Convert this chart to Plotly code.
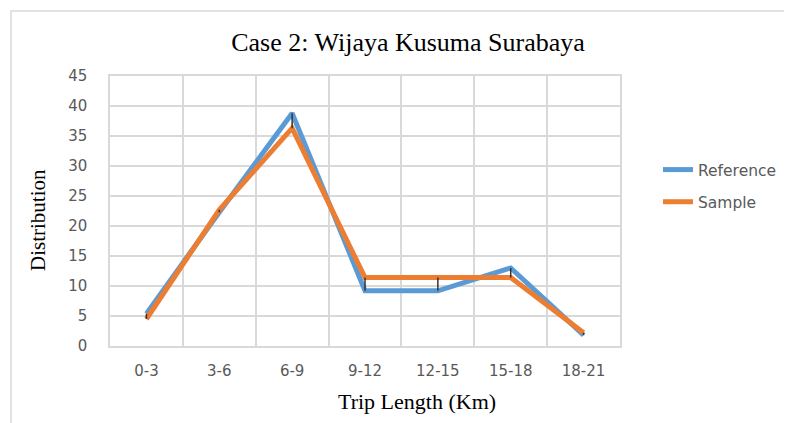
import plotly.graph_objects as go

categories = ["0-3", "3-6", "6-9", "9-12", "12-15", "15-18", "18-21"]
reference = [5.4, 22.3, 38.8, 9.2, 9.2, 13.0, 1.8]
sample = [4.5, 22.7, 36.3, 11.4, 11.4, 11.4, 2.2]
y_ticks = [0, 5, 10, 15, 20, 25, 30, 35, 40, 45]

# high-low connector segments between the two series
hl_x, hl_y = [], []
for c, a, b in zip(categories, reference, sample):
    hl_x += [c, c, None]
    hl_y += [a, b, None]

fig = go.Figure()
fig.add_trace(go.Scatter(x=categories, y=reference, name="Reference", mode="lines",
                         line=dict(color="#5B9BD5", width=5), legendgroup="a"))
fig.add_trace(go.Scatter(x=categories, y=sample, name="Sample", mode="lines",
                         line=dict(color="#ED7D31", width=5), legendgroup="b"))
fig.add_trace(go.Scatter(x=hl_x, y=hl_y, mode="lines", showlegend=False,
                         line=dict(color="#333333", width=1.5), hoverinfo="skip"))

OX, OY = 8, 8  # page body margin
L, R, T, B = 110 - OX, 620 - OX, 76 - OY, 346 - OY
W, H = 792 - OX, 423 - OY
pw, ph = R - L, B - T


def px(x):
    return (x - OX - L) / pw


def py(y):
    return (B - (y - OY)) / ph


fig.update_layout(
    width=W, height=H,
    margin=dict(l=L, r=W - R, t=T, b=H - B, pad=0, autoexpand=False),
    paper_bgcolor="white", plot_bgcolor="white",
    title=dict(text="Case 2: Wijaya Kusuma Surabaya", x=(408 - OX) / W, xanchor="center",
               y=1 - (42 - OY) / H, yanchor="middle",
               font=dict(family="Liberation Serif", size=26, color="#000000")),
    legend=dict(x=px(658), xanchor="left", y=py(186), yanchor="middle",
                font=dict(family="DejaVu Sans", size=15.5, color="#595959"),
                tracegroupgap=9, bgcolor="rgba(0,0,0,0)"),
    showlegend=True,
)
fig.update_xaxes(
    type="category", showgrid=True, gridcolor="#d9d9d9", gridwidth=1.5,
    showline=True, linecolor="#d9d9d9", linewidth=1.5, mirror=True,
    tickfont=dict(family="DejaVu Sans", size=15, color="#595959"),
    ticks="", ticklabelstandoff=10, tickson="boundaries",
    range=[-0.5, 6.5],
)
fig.update_yaxes(
    range=[0, 45], tickvals=y_ticks, showgrid=True, gridcolor="#d9d9d9", gridwidth=1.5,
    showline=True, linecolor="#d9d9d9", linewidth=1.5, mirror=True, zeroline=False,
    tickfont=dict(family="DejaVu Sans", size=15, color="#595959"),
    ticks="", ticklabelstandoff=18,
)
# axis titles (positioned as in the reference)
fig.add_annotation(text="Trip Length (Km)", xref="paper", yref="paper", x=px(417), y=py(401),
                   xanchor="center", yanchor="middle", showarrow=False,
                   font=dict(family="Liberation Serif", size=22, color="#000000"))
fig.add_annotation(text="Distribution", xref="paper", yref="paper", x=px(38), y=py(220),
                   xanchor="center", yanchor="middle", showarrow=False, textangle=-90,
                   font=dict(family="Liberation Serif", size=21, color="#000000"))
# outer chart border
fig.add_shape(type="rect", xref="paper", yref="paper",
              x0=px(11), x1=(W + 20 - L) / pw,
              y0=(B - (H + 20)) / ph, y1=py(11),
              line=dict(color="#d9d9d9", width=1.5), fillcolor="rgba(0,0,0,0)", layer="below")

fig.write_html("out.html")
